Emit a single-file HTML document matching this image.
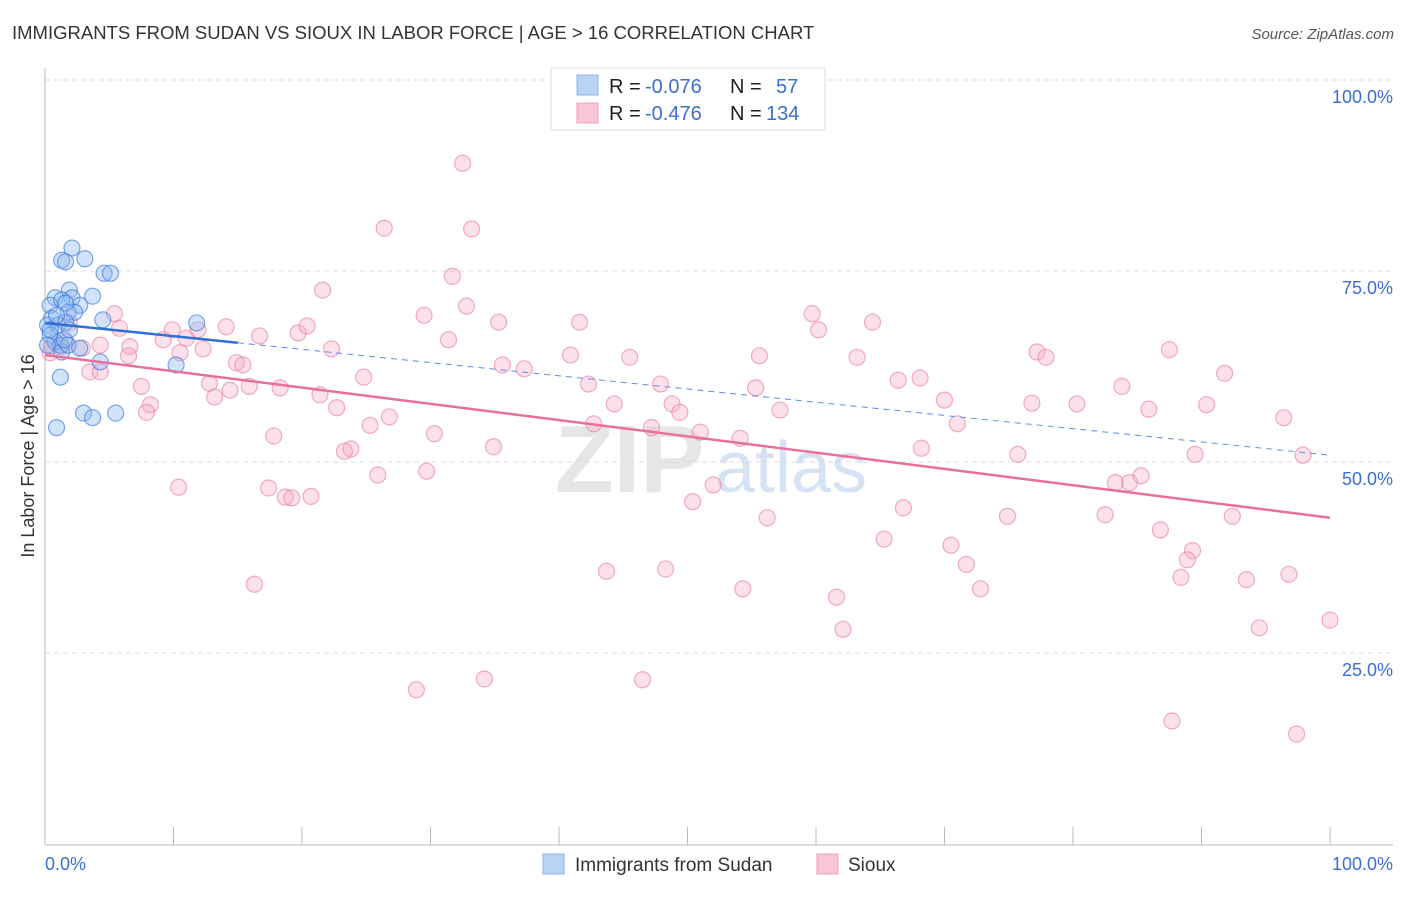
<!DOCTYPE html>
<html><head><meta charset="utf-8"><style>
body{margin:0;background:#fff;font-family:"Liberation Sans",sans-serif;}
svg text{font-family:"Liberation Sans",sans-serif;}
</style></head><body>
<svg id="chart" width="1406" height="892" xmlns="http://www.w3.org/2000/svg">
<text x="12" y="39" font-size="18.5" fill="#333">IMMIGRANTS FROM SUDAN VS SIOUX IN LABOR FORCE | AGE &gt; 16 CORRELATION CHART</text>
<text x="1394" y="39" font-size="15" fill="#555" font-style="italic" text-anchor="end">Source: ZipAtlas.com</text>
<text x="555" y="492" font-size="96" fill="#e6e6e6" font-family="Liberation Serif" font-weight="bold">ZIP</text>
<text x="715" y="492" font-size="72" fill="#d6e3f5">atlas</text>
<text transform="translate(34,456) rotate(-90)" font-size="18" fill="#333" text-anchor="middle">In Labor Force | Age &gt; 16</text>
<g id="grid"></g><g id="axes"></g><g id="pts"></g><g id="trends"></g>
<g>
<rect x="551" y="68" width="274" height="62" fill="#fff" stroke="#ddd"/>
<rect x="577" y="75" width="21" height="20" fill="#b9d3f5" stroke="#8fb3e8"/>
<rect x="577" y="103" width="21" height="20" fill="#f9c6d5" stroke="#eea0b8"/>
<text x="609" y="93" font-size="20" fill="#222">R = </text><text x="645" y="93" font-size="20" fill="#3a6fd0">-0.076</text>
<text x="730" y="93" font-size="20" fill="#222">N =</text><text x="776" y="93" font-size="20" fill="#3a6fd0">57</text>
<text x="609" y="120" font-size="20" fill="#222">R = </text><text x="645" y="120" font-size="20" fill="#3a6fd0">-0.476</text>
<text x="730" y="120" font-size="20" fill="#222">N =</text><text x="766" y="120" font-size="20" fill="#3a6fd0">134</text>
</g>
<g>
<rect x="543" y="854" width="21" height="20" fill="#b9d3f5" stroke="#8fb3e8"/>
<text x="575" y="871" font-size="19" fill="#333">Immigrants from Sudan</text>
<rect x="817" y="854" width="21" height="20" fill="#f9c6d5" stroke="#eea0b8"/>
<text x="848" y="871" font-size="19" fill="#333">Sioux</text>
</g>
</svg>
<script>
const yTicks=[25,50,75,100];
const yTickLabels=["25.0%","50.0%","75.0%","100.0%"];
const sudanX=[2.1,1.3,1.6,3.1,4.6,5.1,3.7,1.9,2.1,0.8,0.4,1.3,2.7,1.8,2.3,0.5,0.2,1.0,1.6,4.5,11.8,0.4,0.8,1.2,0.2,1.3,1.8,2.7,4.3,10.2,1.2,0.9,3.0,3.7,5.5,0.4,0.9,1.5,1.9,1.6];
const sudanY=[78.0,76.4,76.2,76.6,74.7,74.7,71.7,72.5,71.5,71.5,70.5,71.2,70.5,69.6,69.6,68.8,67.9,67.9,68.3,68.6,68.2,66.6,65.7,65.3,65.3,64.4,65.3,64.9,63.1,62.7,61.1,54.5,56.4,55.8,56.4,67.3,69.2,66.0,67.3,70.8];
const siouxX=[32.5,26.4,33.2,31.7,21.6,32.8,29.5,35.3,41.6,59.7,60.2,64.4,5.4,5.8,14.1,16.7,19.7,20.4,9.9,9.2,11.9,11.0,31.4,22.3,40.9,45.5,55.6,63.2,77.2,77.9,87.5,4.3,6.6,12.3,10.5,14.9,15.4,6.5,3.5,4.3,35.6,37.3,24.8,42.3,47.9,55.3,66.4,68.1,83.8,91.8,7.5,12.8,15.9,18.3,13.2,14.4,21.4,8.2,7.9,22.7,44.3,48.8,49.4,57.2,70.0,76.8,80.3,85.9,90.4,96.4,26.8,25.3,42.7,47.2,51.0,54.1,71.0,17.8,30.3,23.8,23.3,34.9,68.2,75.7,89.5,97.9,25.9,29.7,83.3,84.4,85.3,10.4,17.4,18.7,19.2,20.7,52.0,50.4,66.8,56.2,74.9,82.5,92.4,86.8,65.3,70.5,71.7,89.3,88.9,43.7,48.3,16.3,54.3,72.8,88.4,93.5,96.8,61.6,62.1,94.5,100.0,28.9,34.2,46.5,87.7,97.4,0.4,1.6,1.9,2.9,0.5,1.3];
const siouxY=[89.1,80.6,80.5,74.3,72.5,70.4,69.2,68.3,68.3,69.4,67.3,68.3,69.4,67.5,67.7,66.5,66.9,67.8,67.3,66.0,67.3,66.2,66.0,64.8,64.0,63.7,63.9,63.7,64.4,63.7,64.7,65.3,65.1,64.8,64.3,63.0,62.7,63.9,61.8,61.8,62.7,62.2,61.1,60.2,60.2,59.7,60.7,61.0,59.9,61.6,59.9,60.3,59.9,59.7,58.5,59.4,58.8,57.5,56.5,57.1,57.6,57.6,56.5,56.8,58.1,57.7,57.6,56.9,57.5,55.8,55.9,54.8,55.0,54.5,53.9,53.1,55.0,53.4,53.7,51.7,51.4,52.0,51.8,51.0,51.0,50.9,48.3,48.8,47.3,47.3,48.2,46.7,46.6,45.4,45.3,45.5,47.0,44.8,44.0,42.7,42.9,43.1,42.9,41.1,39.9,39.1,36.6,38.4,37.2,35.7,36.0,34.0,33.4,33.4,34.9,34.6,35.3,32.3,28.1,28.3,29.3,20.2,21.6,21.5,16.1,14.4,64.3,65.7,68.2,64.9,65.2,65.1];
const sudanTrend=[68.2,50.9];
const siouxTrend=[64.0,42.7];
const sx=v=>45+v*12.85, sy=v=>844-v*7.64;
const NS='http://www.w3.org/2000/svg';
function mk(tag,attrs,parent){const e=document.createElementNS(NS,tag);for(const k in attrs)e.setAttribute(k,attrs[k]);document.getElementById(parent).appendChild(e);return e;}
yTicks.forEach((t,i)=>{
 const g=mk('line',{x1:45,x2:1393,y1:sy(t),y2:sy(t),stroke:'#ddd','stroke-dasharray':'5,4'},'grid');
 
 
 const l=mk('text',{x:1393,y:sy(t)+23,'font-size':18,fill:'#3a6fd0','text-anchor':'end'},'grid');
 l.textContent=yTickLabels[i];
 
 
});
const ax1=mk('line',{x1:45,x2:45,y1:68,y2:845,stroke:'#bbb'},'axes');


const ax2=mk('line',{x1:45,x2:1393,y1:845,y2:845,stroke:'#bbb'},'axes');


for(let i=1;i<=10;i++){const t=mk('line',{x1:sx(i*10),x2:sx(i*10),y1:827,y2:845,stroke:'#bbb'},'axes');
 
 }
const xl=mk('text',{x:45,y:870,'font-size':18,fill:'#3a6fd0'},'axes');xl.textContent='0.0%';


const xr=mk('text',{x:1393,y:870,'font-size':18,fill:'#3a6fd0','text-anchor':'end'},'axes');xr.textContent='100.0%';


siouxX.forEach((x,i)=>{const c=mk('circle',{cx:sx(x),cy:sy(siouxY[i]),r:8,fill:'rgba(246,170,195,0.35)',stroke:'rgba(232,120,160,0.6)','stroke-width':1.2},'pts');
 
 });
sudanX.forEach((x,i)=>{const c=mk('circle',{cx:sx(x),cy:sy(sudanY[i]),r:8,fill:'rgba(140,185,240,0.4)',stroke:'rgba(60,120,220,0.65)','stroke-width':1.2},'pts');
 
 });
const bAt=v=>sudanTrend[0]+(sudanTrend[1]-sudanTrend[0])*v/100;
const t1=mk('line',{x1:sx(0),y1:sy(bAt(0)),x2:sx(15),y2:sy(bAt(15)),stroke:'#2f6fd6','stroke-width':2.5},'trends');


const t2=mk('line',{x1:sx(15),y1:sy(bAt(15)),x2:sx(100),y2:sy(bAt(100)),stroke:'#5b8ee0','stroke-width':1,'stroke-dasharray':'6,5'},'trends');


const t3=mk('line',{x1:sx(0),y1:sy(siouxTrend[0]),x2:sx(100),y2:sy(siouxTrend[1]),stroke:'#e8709a','stroke-width':2.5},'trends');


</script>
</body></html>
